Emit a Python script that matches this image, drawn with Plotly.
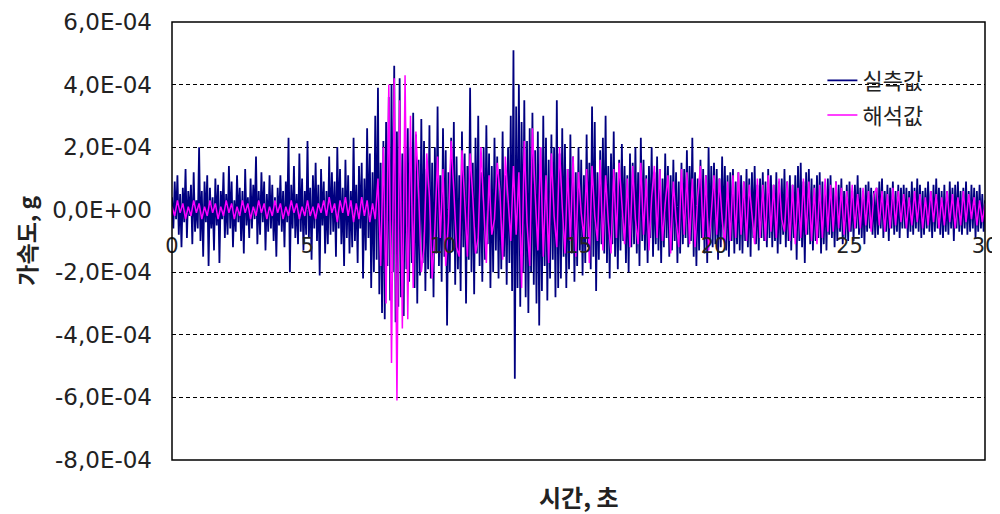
import plotly.graph_objects as go

# ---- data (units: 1e-6 g) ----
dt_measured = 0.05
dt_analysis = 0.1
unit = 1e-6

measured = [
    40,-60,90,-30,110,-80,50,-120,70,-40,130,-90,60,-20,80,-110,120,-70,30,-60,
    200,-100,60,-150,90,-40,110,-180,70,-60,40,-130,100,-50,80,-170,60,-30,120,-90,
    50,-80,140,-60,90,-120,30,-70,110,-40,70,-100,60,-140,130,-50,40,-90,100,-60,
    80,-30,170,-110,60,-80,120,-40,90,-130,50,-70,110,-60,80,-100,40,-150,70,-50,
    110,-70,60,-120,90,-40,230,-200,80,-60,140,-90,50,-110,180,-70,100,-130,60,-80,
    220,-90,70,-160,110,-60,150,-100,80,-210,130,-50,90,-140,60,-110,170,-80,120,-70,
    90,-150,200,-60,130,-110,70,-180,160,-90,110,-140,60,-120,230,-100,80,-170,140,-60,
    150,-220,100,-130,260,-90,180,-250,120,-200,300,-160,390,-270,150,-330,220,-350,280,-180,
    360,-290,400,-200,460,-360,250,-310,420,-280,180,-340,300,-190,260,-230,200,-170,310,-250,
    240,-300,160,-210,290,-170,220,-260,130,-190,270,-220,150,-280,200,-140,330,-180,110,-230,
    260,-150,190,-370,120,-200,230,-130,280,-240,170,-190,110,-260,250,-120,180,-300,140,-160,
    390,-200,150,-270,230,-140,300,-180,120,-230,200,-160,270,-110,180,-250,140,-200,230,-130,
    170,-220,130,-190,250,-150,110,-240,200,-170,300,-260,510,-540,330,-250,400,-310,280,-200,
    350,-280,220,-330,260,-200,310,-240,190,-300,250,-370,200,-260,300,-180,230,-290,160,-220,
    240,-160,200,-280,350,-250,180,-220,260,-150,210,-250,130,-190,240,-140,170,-230,120,-180,
    200,-130,160,-210,110,-170,240,-120,150,-190,330,-150,280,-260,120,-160,190,-110,230,-140,
    300,-170,140,-220,180,-110,250,-150,120,-190,160,-130,210,-100,140,-170,110,-200,180,-120,
    150,-110,200,-140,120,-180,230,-100,160,-130,110,-170,140,-90,200,-150,120,-110,170,-130,
    130,-170,100,-120,180,-90,140,-150,110,-130,160,-100,120,-170,90,-140,150,-110,130,-90,
    190,-120,140,-100,230,-150,120,-180,100,-130,160,-90,130,-140,110,-170,200,-110,140,-120,
    150,-110,130,-160,100,-120,170,-90,140,-130,110,-150,120,-100,130,-140,90,-110,120,-130,
    110,-140,90,-100,130,-120,100,-150,120,-90,140,-110,80,-130,100,-90,120,-100,90,-120,
    130,-90,110,-120,80,-100,120,-140,90,-110,100,-80,130,-120,90,-100,110,-130,80,-90,
    110,-160,140,-100,150,-120,90,-170,120,-80,130,-110,100,-130,80,-100,110,-90,120,-140,
    90,-110,80,-130,100,-80,110,-90,70,-120,90,-100,80,-70,100,-110,60,-90,80,-100,
    90,-70,60,-100,80,-60,110,-80,70,-90,60,-110,80,-70,90,-60,70,-80,60,-90,
    70,-80,90,-60,100,-90,60,-70,80,-100,70,-60,90,-80,60,-70,80,-90,70,-60,
    80,-60,70,-90,60,-70,90,-80,70,-60,100,-70,80,-90,60,-80,70,-60,90,-70,
    60,-90,80,-70,100,-60,70,-80,60,-90,80,-70,60,-80,90,-60,70,-100,80,-60,
    90,-70,60,-80,70,-60,90,-80,60,-70,80,-60,70,-90,60,-70,80,-60,50,-70,
    30,
]

analysis = [
    10,-20,30,-10,20,-30,10,-20,30,-10,
    20,-30,10,-20,30,-10,20,-30,10,-20,
    30,-10,20,-30,10,-20,30,-10,20,-30,
    10,-20,30,-10,20,-30,10,-20,30,-10,
    20,-30,10,-20,30,-10,20,-30,10,-20,
    30,-20,10,-30,20,-10,30,-20,40,-10,
    20,-40,30,-10,40,-20,30,-40,20,-30,
    40,-20,30,-40,20,-30,100,-180,200,-300,
    400,-490,420,-610,350,-380,430,-350,300,-250,
    250,60,-200,-120,180,40,-220,-60,170,-90,
    130,-180,-40,220,60,-120,-150,190,30,-150,
    180,40,-140,-90,200,20,-170,110,-80,-30,
    150,60,-160,170,20,-100,140,-80,120,-250,
    220,-40,-180,260,50,-130,200,-150,110,-170,
    180,-20,-120,200,10,-140,130,-100,170,-150,
    120,-10,-90,130,-170,140,-20,-100,160,-130,
    110,-40,-140,130,-90,150,20,-110,100,-120,
    140,-30,-110,150,-80,100,-130,40,140,-90,
    130,-100,20,110,-140,90,-30,-120,130,-80,
    120,-110,100,-120,40,140,-90,110,-130,-20,
    110,-80,100,-30,-120,90,-100,110,-90,120,
    -80,90,-100,80,-20,-110,100,-90,80,-100,
    110,-70,80,-90,100,-30,-70,90,-100,80,
    -110,70,-90,100,-80,90,-100,70,-110,80,
    -90,100,-70,80,-70,90,-60,70,-80,60,
    -70,80,-60,50,-60,70,-50,60,-70,50,
    70,-50,60,-70,50,-60,70,-50,60,-40,
    50,-60,40,-50,60,-40,50,-60,40,-50,
    60,-40,50,-60,40,-50,60,-40,50,-60,
    40,-50,60,-40,50,-30,40,-50,30,-40,
    20,
]

y_tickvals = [6e-4, 4e-4, 2e-4, 0, -2e-4, -4e-4, -6e-4, -8e-4]
y_ticktext = ["6,0E-04", "4,0E-04", "2,0E-04", "0,0E+00",
              "-2,0E-04", "-4,0E-04", "-6,0E-04", "-8,0E-04"]
x_tickvals = [0, 5, 10, 15, 20, 25, 30]
x_ticktext = ["0", "5", "10", "15", "20", "25", "30"]

name_measured = "실측값"
name_analysis = "해석값"
x_title = "시간, 초"
y_title = "가속도, g"

FONT = "DejaVu Sans, Liberation Sans, Noto Sans CJK KR, sans-serif"
KFONT = "Noto Sans CJK KR, DejaVu Sans, sans-serif"
TXT = "#222222"

fig = go.Figure()
fig.add_trace(go.Scatter(
    x0=0, dx=dt_measured, y=[v * unit for v in measured],
    mode="lines", name=name_measured, legendgroup="a",
    line=dict(color="#000080", width=1.8),
))
fig.add_trace(go.Scatter(
    x0=0, dx=dt_analysis, y=[v * unit for v in analysis],
    mode="lines", name=name_analysis, legendgroup="b",
    line=dict(color="#FF00FF", width=1.5),
))

title_font = dict(family=KFONT, size=24, color=TXT, weight="bold")
ytitle_font = dict(family=KFONT, size=23, color=TXT, weight="bold")

# page body has an 8px margin, so the figure is sized to fit inside the window
fig.update_layout(
    width=992, height=506,
    margin=dict(l=164, r=15, t=14, b=54, autoexpand=False),
    paper_bgcolor="white", plot_bgcolor="white",
    font=dict(family=FONT, size=22, color=TXT),
    showlegend=True,
    legend=dict(x=0.80, y=0.914, xanchor="left", yanchor="top",
                bgcolor="rgba(0,0,0,0)", tracegroupgap=3, itemwidth=30,
                font=dict(family=KFONT, size=22, color=TXT)),
    xaxis=dict(
        range=[0, 30], tickvals=x_tickvals, ticktext=x_ticktext,
        showgrid=False, zeroline=False, showline=False, ticks="",
        anchor="free", position=8 / 14, ticklabelstandoff=21,
        automargin=False,
        tickfont=dict(family=FONT, size=21, color=TXT),
    ),
    yaxis=dict(
        range=[-8e-4, 6e-4], tickvals=y_tickvals, ticktext=y_ticktext,
        showgrid=True, gridcolor="black", gridwidth=1, griddash="4px,3px",
        zeroline=False, showline=False, ticks="",
        ticklabelstandoff=19, automargin=False,
        tickfont=dict(family=FONT, size=23, color=TXT),
    ),
    shapes=[dict(type="rect", xref="paper", yref="paper", x0=0, y0=0, x1=1, y1=1,
                 line=dict(color="black", width=1.5), layer="above")],
    annotations=[
        dict(text=x_title, xref="paper", yref="paper", x=0.5, y=-0.084,
             xanchor="center", yanchor="middle", showarrow=False, font=title_font),
        dict(text=y_title, xref="paper", yref="paper", x=-0.18, y=0.5,
             xanchor="center", yanchor="middle", showarrow=False, textangle=-90,
             borderpad=0, font=ytitle_font),
    ],
)

fig.write_html("out.html")
